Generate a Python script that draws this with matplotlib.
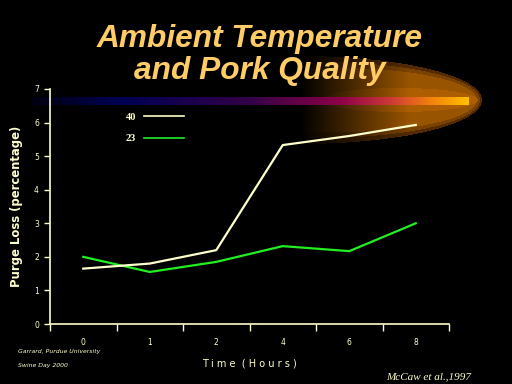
import numpy as np
import matplotlib

matplotlib.use("Agg")
import matplotlib.pyplot as plt  # noqa: E402
from matplotlib.lines import Line2D  # noqa: E402

# dados
hours = ["0", "1", "2", "4", "6", "8"]
temp_40 = [1.65, 1.8, 2.2, 5.33, 5.6, 5.93]
temp_23 = [2.0, 1.55, 1.85, 2.32, 2.17, 3.0]

CREAM = "#FFFFCC"
GREEN = "#22EE22"
ORANGE = "#FFCC66"

W, H = 512, 384
fig = plt.figure(figsize=(W / 100, H / 100), dpi=100, facecolor="black")

# camada decorativa em coordenadas de pixel (barra em degradê + brilho)
deco = fig.add_axes([0, 0, 1, 1], zorder=0)
deco.set_xlim(0, W)
deco.set_ylim(H, 0)
deco.axis("off")

yy, xx = np.mgrid[0:H, 0:W] + 0.5
img = np.zeros((H, W, 4))

# brilho em camadas elípticas
layers = [
    (300, 182, 44, (0.33, 0.17, 0.0)),
    (320, 160, 38, (0.48, 0.26, 0.0)),
    (340, 137, 32, (0.60, 0.33, 0.0)),
    (400, 78, 12, (0.68, 0.37, 0.0)),
]
fade = np.clip((xx - 300) / 110, 0, 1)
for cx, a, b, col in layers:
    inside = ((xx - cx) / a) ** 2 + ((yy - 100) / b) ** 2 <= 1
    for ch in range(3):
        img[..., ch] = np.where(inside, col[ch] * fade, img[..., ch])
    img[..., 3] = np.where(inside, 1, img[..., 3])

# barra horizontal
stops_x = [32, 120, 250, 340, 390, 430, 468]
stops_c = [
    (0.0, 0.0, 0.06),
    (0.0, 0.0, 0.33),
    (0.2, 0.0, 0.28),
    (0.55, 0.0, 0.28),
    (0.8, 0.22, 0.22),
    (0.95, 0.5, 0.05),
    (1.0, 0.75, 0.0),
]
bar = (yy >= 97) & (yy <= 105) & (xx >= 32) & (xx <= 469)
for ch in range(3):
    vals = np.interp(xx, stops_x, [c[ch] for c in stops_c])
    img[..., ch] = np.where(bar, vals, img[..., ch])
img[..., 3] = np.where(bar, 1, img[..., 3])
deco.imshow(img, extent=(0, W, H, 0), interpolation="nearest")

# eixo principal
ax = fig.add_axes([50 / W, (H - 324) / H, 399 / W, (324 - 89) / H], zorder=1)
ax.set_facecolor("none")
x = np.arange(len(hours))
ax.plot(x, temp_23, color=GREEN, lw=1.6)
ax.plot(x, temp_40, color=CREAM, lw=1.6)

ax.set_xlim(-0.5, len(hours) - 0.5)
ax.set_ylim(0, 7)
ax.set_xticks(np.arange(-0.5, len(hours)), labels=[])
ax.set_xticks(x, labels=hours, minor=True)
ax.tick_params(axis="x", which="major", colors=CREAM, length=5, width=1, direction="out")
ax.tick_params(axis="x", which="minor", length=0, pad=10, labelsize=5.5, labelcolor=CREAM)
ax.set_yticks(range(8))
ax.tick_params(axis="y", colors=CREAM, length=4, width=1, labelsize=5.5, pad=4)
for s in ["top", "right"]:
    ax.spines[s].set_visible(False)
for s in ["left", "bottom"]:
    ax.spines[s].set_color(CREAM)
    ax.spines[s].set_linewidth(1.2)

ax.set_ylabel("Purge Loss (percentage)", color=CREAM, fontsize=8.4,
              fontweight="bold", labelpad=8)
ax.set_xlabel("T i m e  ( H o u r s )", color=CREAM, fontsize=7, labelpad=8)

handles = [Line2D([], [], color=CREAM, lw=1.2), Line2D([], [], color=GREEN, lw=1.2)]
fig.legend(handles, ["40", "23"], loc="upper left", bbox_to_anchor=(116 / W, 1 - 103 / H),
           frameon=False, markerfirst=False, handlelength=3.8, labelspacing=1.2,
           labelcolor=CREAM, prop={"family": "Liberation Serif", "weight": "bold", "size": 7.5})

fig.text(260 / W, 1 - 55 / H, "Ambient Temperature\nand Pork Quality", ha="center",
         va="center", color=ORANGE, family="Liberation Sans", fontsize=22.8,
         fontweight="bold", style="italic", linespacing=1.12)

fig.text(18 / W, 1 - 352 / H, "Garrard, Purdue University", color=CREAM, fontsize=4.4,
         style="italic", va="center")
fig.text(18 / W, 1 - 365 / H, "Swine Day 2000", color=CREAM, fontsize=4.4,
         style="italic", va="center")
fig.text(429 / W, 1 - 377 / H, "McCaw et al.,1997", color=CREAM, fontsize=8,
         family="Liberation Serif", style="italic", ha="center", va="center")

fig.savefig("out.png", dpi=100, facecolor="black")
